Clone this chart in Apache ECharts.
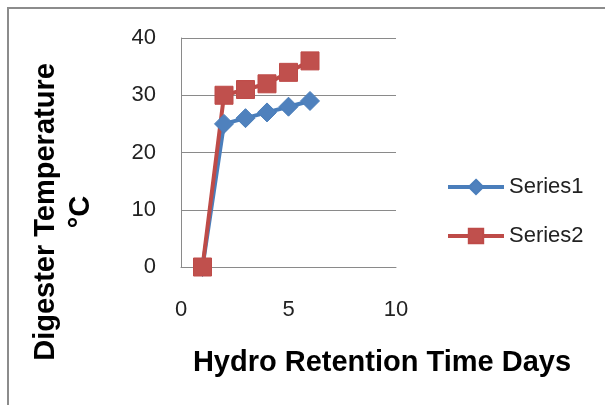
<!DOCTYPE html>
<html>
<head>
<meta charset="utf-8">
<script src="https://cdn.jsdelivr.net/npm/echarts@6/dist/echarts.min.js"></script>
<style>
html,body{margin:0;padding:0;background:#fff;}
#chart{width:605px;height:405px;}
</style>
</head>
<body>
<div id="chart"></div>
<script>
var days = [1, 2, 3, 4, 5, 6];
var series1 = [0, 25, 26, 27, 28, 29];
var series2 = [0, 30, 31, 32, 34, 36];
var seriesNames = ['Series1', 'Series2'];
var xTitle = 'Hydro Retention Time Days';
var yTitle = 'Digester Temperature\n\u00B0C';

function pairs(xs, ys) { return xs.map(function (x, i) { return [x, ys[i]]; }); }

var FONT = 'Liberation Sans';
var chart = echarts.init(document.getElementById('chart'), null, {renderer: 'canvas'});
chart.setOption({
  animation: false,
  backgroundColor: '#fff',
  textStyle: {fontFamily: FONT},
  grid: {left: 181, right: 209, top: 38, bottom: 138, containLabel: false},
  xAxis: {
    type: 'value', min: 0, max: 10, interval: 5,
    axisLine: {show: true, lineStyle: {color: '#8a8a8a', width: 1}},
    axisTick: {show: false},
    splitLine: {show: false},
    axisLabel: {color: '#222', fontSize: 22, fontFamily: FONT, margin: 32}
  },
  yAxis: {
    type: 'value', min: 0, max: 40, interval: 10,
    axisLine: {show: true, lineStyle: {color: '#8a8a8a', width: 1}},
    axisTick: {show: false},
    splitLine: {show: true, lineStyle: {color: '#8a8a8a', width: 1}},
    axisLabel: {color: '#222', fontSize: 22, fontFamily: FONT, margin: 25}
  },
  legend: {
    orient: 'vertical', left: 441, top: 171, itemGap: 27,
    itemWidth: 56, itemHeight: 18,
    lineStyle: {width: 4},
    textStyle: {color: '#222', fontSize: 22, fontFamily: FONT, padding: [0,0,0,0]},
    data: seriesNames
  },
  series: [
    {
      name: seriesNames[0], type: 'line', data: pairs(days, series1),
      symbol: 'diamond', symbolSize: 19, showAllSymbol: true,
      lineStyle: {color: '#4A7EBB', width: 4},
      itemStyle: {color: '#4F81BD', borderColor: '#4A7EBB', borderWidth: 1}
    },
    {
      name: seriesNames[1], type: 'line', data: pairs(days, series2),
      symbol: 'rect', symbolSize: 18, showAllSymbol: true,
      lineStyle: {color: '#BE4B48', width: 4},
      itemStyle: {color: '#C0504D', borderColor: '#BE4B48', borderWidth: 1}
    }
  ],
  graphic: [
    {type: 'rect', shape: {x: 8, y: 8, width: 700, height: 500},
     style: {fill: null, stroke: '#8c8c8c', lineWidth: 2}, silent: true},
    {type: 'text', x: 382, y: 363,
     style: {text: xTitle, font: 'bold 29px "' + FONT + '"', fill: '#000', align: 'center', verticalAlign: 'middle'}},
    {type: 'text', x: 63, y: 212, rotation: Math.PI / 2,
     style: {text: yTitle, font: 'bold 29px "' + FONT + '"', fill: '#000', align: 'center', verticalAlign: 'middle', lineHeight: 35}}
  ]
});
</script>
</body>
</html>
